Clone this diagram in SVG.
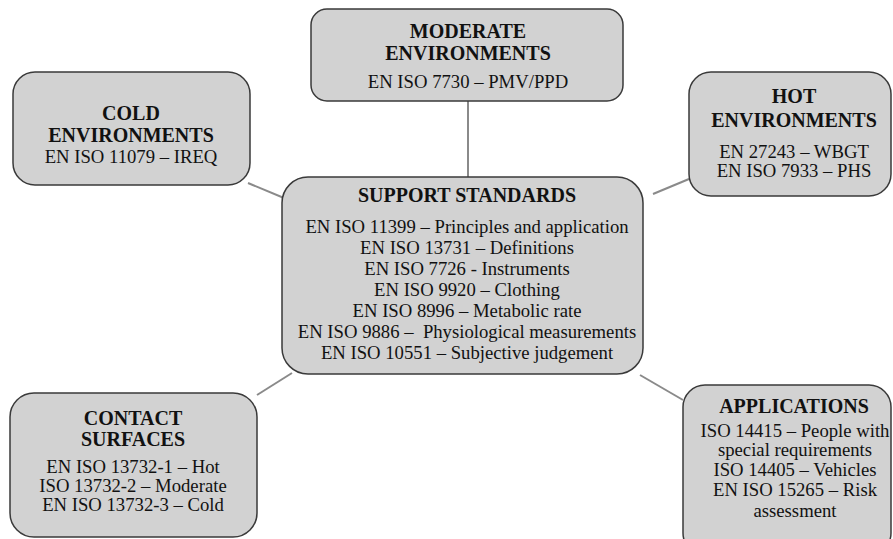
<svg xmlns="http://www.w3.org/2000/svg" width="893" height="539" viewBox="0 0 893 539">
<style>
.box{fill:#d2d2d2;stroke:#3a3a3a;stroke-width:1.5}
.t{font-family:'Liberation Serif',serif;font-size:20px;font-weight:bold;fill:#111;text-anchor:middle}
.b{font-family:'Liberation Serif',serif;font-size:18.7px;fill:#111;text-anchor:middle}
.c{stroke:#8a8a8a;stroke-width:2;fill:none}
</style>
<rect width="893" height="539" fill="#fff"/>
<g id="connectors">
<line class="c" x1="468" y1="101" x2="468" y2="177"/>
<line class="c" x1="248" y1="183" x2="284" y2="198"/>
<line class="c" x1="653" y1="194" x2="689" y2="179"/>
<line class="c" x1="257" y1="395" x2="292" y2="373"/>
<line class="c" x1="640" y1="375" x2="683" y2="400"/>
</g>
<g id="moderate">
<rect class="box" x="311" y="9" width="312" height="92" rx="16"/>
<text class="t" x="468" y="38">MODERATE</text>
<text class="t" x="468" y="60">ENVIRONMENTS</text>
<text class="b" x="468" y="88">EN ISO 7730 – PMV/PPD</text>
</g>
<g id="cold">
<rect class="box" x="13" y="72" width="237" height="113" rx="22"/>
<text class="t" x="131" y="120">COLD</text>
<text class="t" x="131" y="142">ENVIRONMENTS</text>
<text class="b" x="131" y="163">EN ISO 11079 – IREQ</text>
</g>
<g id="hot">
<rect class="box" x="689" y="72" width="202" height="124" rx="22"/>
<text class="t" x="794" y="103">HOT</text>
<text class="t" x="794" y="127">ENVIRONMENTS</text>
<text class="b" x="794" y="158">EN 27243 – WBGT</text>
<text class="b" x="794" y="177">EN ISO 7933 – PHS</text>
</g>
<g id="support">
<rect class="box" x="282" y="177" width="361" height="197" rx="26"/>
<text class="t" x="467" y="202">SUPPORT STANDARDS</text>
<text class="b" x="467" y="233">EN ISO 11399 – Principles and application</text>
<text class="b" x="467" y="254">EN ISO 13731 – Definitions</text>
<text class="b" x="467" y="275">EN ISO 7726 - Instruments</text>
<text class="b" x="467" y="296">EN ISO 9920 – Clothing</text>
<text class="b" x="467" y="317">EN ISO 8996 – Metabolic rate</text>
<text class="b" x="467" y="338" xml:space="preserve">EN ISO 9886 –  Physiological measurements</text>
<text class="b" x="467" y="359">EN ISO 10551 – Subjective judgement</text>
</g>
<g id="contact">
<rect class="box" x="10" y="393" width="247" height="144" rx="24"/>
<text class="t" x="133" y="425">CONTACT</text>
<text class="t" x="133" y="446">SURFACES</text>
<text class="b" x="133" y="473">EN ISO 13732-1 – Hot</text>
<text class="b" x="133" y="492">ISO 13732-2 – Moderate</text>
<text class="b" x="133" y="511">EN ISO 13732-3 – Cold</text>
</g>
<g id="applications">
<rect class="box" x="683" y="385" width="208" height="170" rx="22"/>
<text class="t" x="794" y="413">APPLICATIONS</text>
<text class="b" x="795" y="437">ISO 14415 – People with</text>
<text class="b" x="795" y="456">special requirements</text>
<text class="b" x="795" y="476">ISO 14405 – Vehicles</text>
<text class="b" x="795" y="496">EN ISO 15265 – Risk</text>
<text class="b" x="795" y="517">assessment</text>
</g>
</svg>
